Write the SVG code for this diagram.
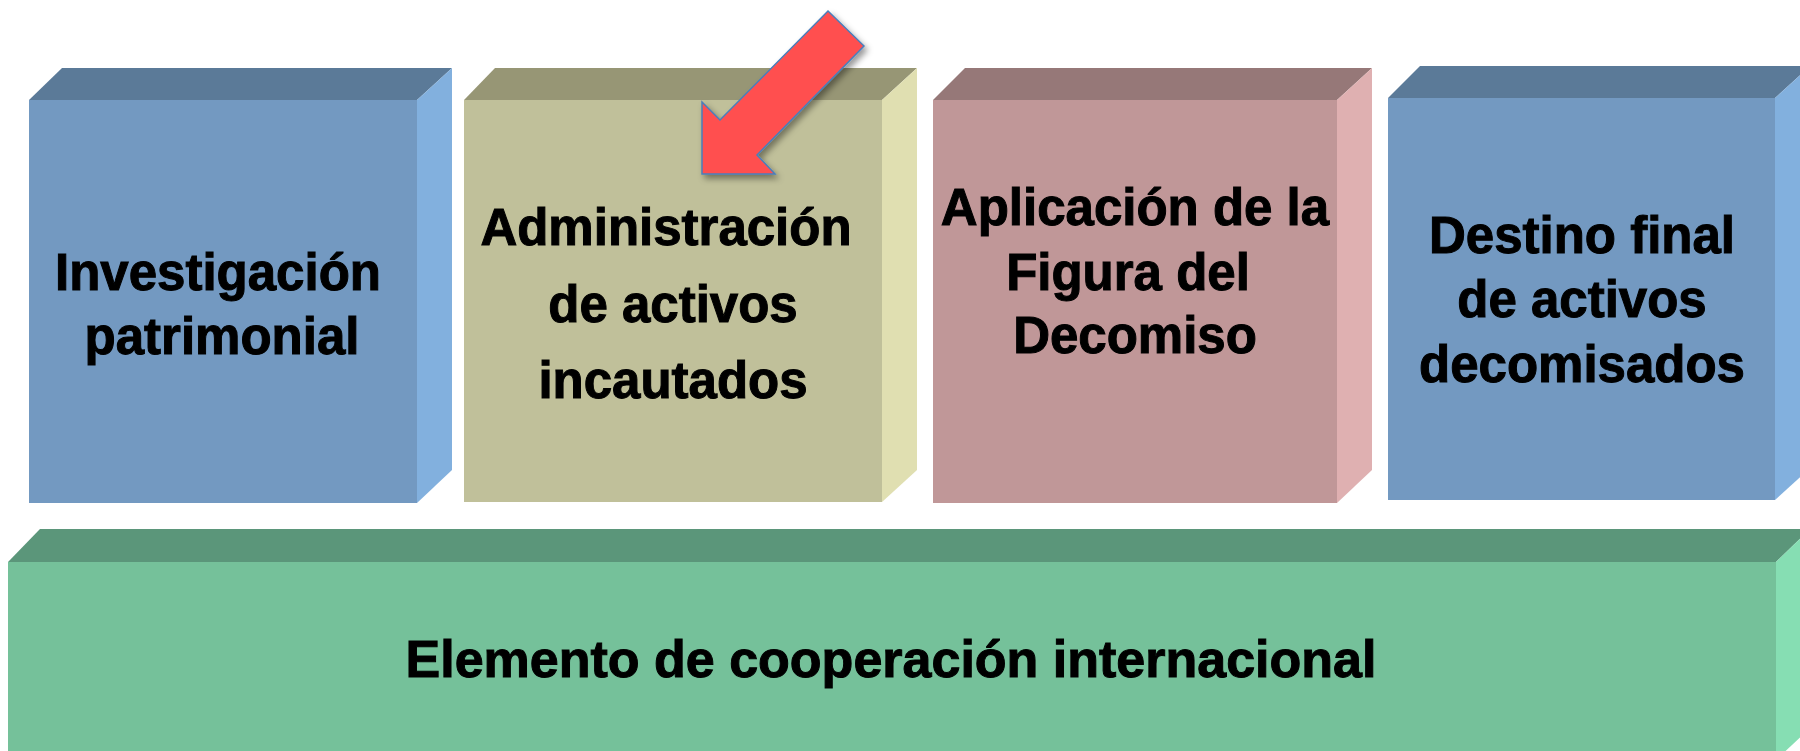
<svg xmlns="http://www.w3.org/2000/svg" width="1800" height="751" viewBox="0 0 1800 751">
<defs>
<style>
.t{font-family:"Liberation Sans",Arial,sans-serif;font-weight:bold;font-size:51px;fill:#000;stroke:#000;stroke-width:1;text-anchor:middle}
.big{font-size:52px}
.bf{fill:#7399C1}.bt{fill:#5B7A98}.br{fill:#82B0DE}
.of{fill:#C0C09A}.ot{fill:#979675}.or{fill:#E0DFB1}
.rf{fill:#C09798}.rt{fill:#967878}.rr{fill:#DFB0B1}
.gf{fill:#75C19A}.gt{fill:#5B967A}.gr{fill:#86DEB3}
</style>
<filter id="sh" x="-20%" y="-20%" width="150%" height="150%">
<feDropShadow dx="3" dy="4" stdDeviation="3" flood-color="#000" flood-opacity="0.4"/>
</filter>
</defs>
<rect width="1800" height="751" fill="#fff"/>

<g id="node-investigacion">
<polygon class="bt" points="29,100 62,68 452,68 417,100"/>
<polygon class="br" points="417,100 452,68 452,470 417,503"/>
<rect class="bf" x="29" y="100" width="388" height="403"/>
<text class="t" x="218" y="290">Investigación</text>
<text class="t" x="222" y="354">patrimonial</text>
</g>

<g id="node-administracion">
<polygon class="ot" points="464,100 495,68 917,68 882,100"/>
<polygon class="or" points="882,100 917,68 917,470 882,502"/>
<rect class="of" x="464" y="100" width="418" height="402"/>
<text class="t" x="666" y="245">Administración</text>
<text class="t" x="673" y="322">de activos</text>
<text class="t" x="673" y="398">incautados</text>
</g>

<g id="node-aplicacion">
<polygon class="rt" points="933,100 965,68 1372,68 1337,100"/>
<polygon class="rr" points="1337,100 1372,68 1372,470 1337,503"/>
<rect class="rf" x="933" y="100" width="404" height="403"/>
<text class="t" x="1135" y="225">Aplicación de la</text>
<text class="t" x="1128" y="290">Figura del</text>
<text class="t" x="1135" y="353">Decomiso</text>
</g>

<g id="node-destino">
<polygon class="bt" points="1388,98 1420,66 1810,66 1775,98"/>
<polygon class="br" points="1775,98 1810,66 1810,468 1775,500"/>
<rect class="bf" x="1388" y="98" width="387" height="402"/>
<text class="t" x="1582" y="253">Destino final</text>
<text class="t" x="1582" y="317">de activos</text>
<text class="t" x="1582" y="382">decomisados</text>
</g>

<g id="node-cooperacion">
<polygon class="gt" points="8,562 40,529 1810,529 1776,562"/>
<polygon class="gr" points="1776,562 1810,529 1810,728 1776,760"/>
<rect class="gf" x="8" y="562" width="1768" height="200"/>
<text class="t big" x="891" y="677">Elemento de cooperación internacional</text>
</g>

<g id="connectors">
<polygon filter="url(#sh)" points="828,11 864,46 757,155 775,174 702,174 702,102 720,120" fill="#FF5050" stroke="#4A7EBB" stroke-width="1.5" stroke-linejoin="miter"/>
</g>
</svg>
